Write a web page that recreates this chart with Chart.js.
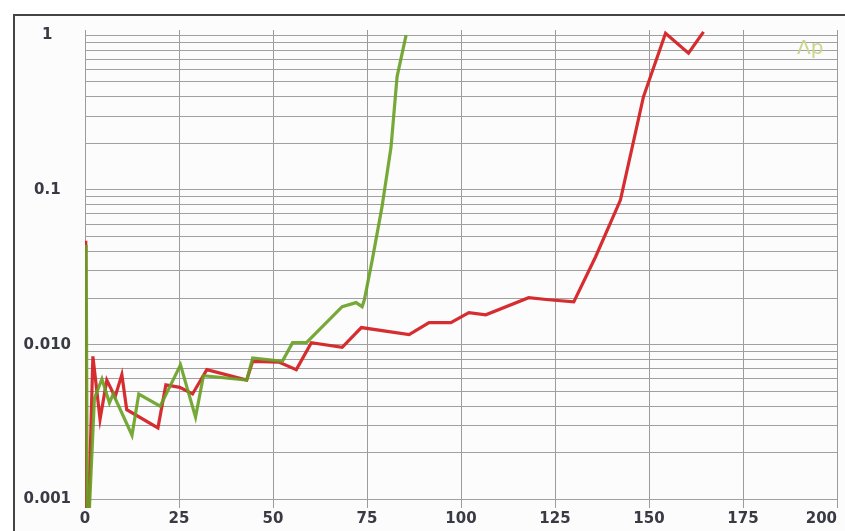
<!DOCTYPE html>
<html>
<head>
<meta charset="utf-8">
<script src="https://cdn.jsdelivr.net/npm/chart.js@4"></script>
<style>
  html, body { margin: 0; padding: 0; background: #ffffff; }
  #wrap { position: relative; width: 845px; height: 531px; }
  canvas { display: block; }
</style>
</head>
<body>
<div id="wrap"><canvas id="c" width="845" height="531"></canvas></div>
<script>
// ---- data ----
const xTickValues = [0, 25, 50, 75, 100, 125, 150, 175, 200];
const xTickLabels = ['0', '25', '50', '75', '100', '125', '150', '175', '200'];
const yLabelValues = [1, 0.1, 0.01, 0.001];
const yLabelTexts = ['1', '0.1', '0.010', '0.001'];
const legendText = 'Λp';

const greenX = [0.3, 0.6, 1.2, 2.5, 4.5, 6.5, 7.5, 12.5, 14.3, 20, 25.4, 29.4, 31.5, 43, 44.6, 52.5, 55.2, 58.9, 68.4, 72.1, 73.7, 74.3, 76.4, 79, 81.4, 83, 85.4];
const greenY = [0.044, 0.0009, 0.0009, 0.0045, 0.0060, 0.0042, 0.0048, 0.0026, 0.0048, 0.0040, 0.0074, 0.0034, 0.0063, 0.0059, 0.0082, 0.0078, 0.0103, 0.0103, 0.0176, 0.0187, 0.0176, 0.0195, 0.0353, 0.078, 0.19, 0.54, 1.0];

const redX = [0, 0.2, 1.0, 2.1, 4.0, 5.8, 8.0, 9.8, 11.1, 19.4, 21.5, 25.2, 28.6, 32.4, 43, 44.6, 51.7, 56.2, 60.2, 68.4, 73.5, 86.2, 91.5, 97.3, 102.1, 106.6, 118, 123.3, 130, 135.8, 142.4, 148.5, 154.4, 160.5, 164.5];
const redY = [0.047, 0.0009, 0.0009, 0.0084, 0.0033, 0.0059, 0.0046, 0.0064, 0.0038, 0.0029, 0.0055, 0.0053, 0.0048, 0.0069, 0.0059, 0.0078, 0.0077, 0.0069, 0.0103, 0.0096, 0.0129, 0.0116, 0.0139, 0.0139, 0.0161, 0.0156, 0.0201, 0.0195, 0.0189, 0.037, 0.086, 0.398, 1.03, 0.766, 1.05];

const toPts = (xs, ys) => xs.map((x, i) => ({ x: x, y: ys[i] }));

const yGridValues = [];
[0.001, 0.01, 0.1].forEach(d => { for (let m = 1; m <= 9; m++) yGridValues.push(+(d * m).toPrecision(3)); });
yGridValues.push(1);

const labelFont = 'bold 15px "DejaVu Sans"';
const textColor = '#3a3a44';

const framePlugin = {
  id: 'frame',
  beforeDraw(chart) {
    const ctx = chart.ctx;
    ctx.save();
    ctx.fillStyle = '#ffffff';
    ctx.fillRect(0, 0, chart.width, chart.height);
    ctx.fillStyle = '#fcfcfc';
    ctx.fillRect(15, 16, chart.width - 15, chart.height - 16);
    ctx.strokeStyle = '#444444';
    ctx.lineWidth = 2;
    ctx.beginPath();
    ctx.moveTo(14, chart.height);
    ctx.lineTo(14, 15);
    ctx.lineTo(chart.width, 15);
    ctx.stroke();
    ctx.restore();
  },
  afterDraw(chart) {
    const ctx = chart.ctx;
    const xs = chart.scales.x;
    ctx.save();
    ctx.font = labelFont;
    ctx.fillStyle = textColor;
    ctx.textBaseline = 'middle';
    ctx.textAlign = 'center';
    xTickValues.forEach((v, i) => {
      const t = xTickLabels[i];
      let px = xs.getPixelForValue(v);
      const w = ctx.measureText(t).width;
      if (px + w / 2 > chart.width - 8) px = chart.width - 8 - w / 2;
      ctx.fillText(t, px, 519);
    });
    // legend text
    ctx.font = '20px "DejaVu Sans"';
    ctx.fillStyle = '#c9d48c';
    ctx.textAlign = 'left';
    ctx.fillText(legendText, 797, 49);
    ctx.restore();
  }
};

new Chart(document.getElementById('c'), {
  type: 'scatter',
  data: {
    datasets: [
      {
        label: 'red',
        data: toPts(redX, redY),
        showLine: true,
        borderColor: 'rgba(212,34,38,0.95)',
        borderWidth: 3.2,
        pointRadius: 0,
        tension: 0,
        order: 2
      },
      {
        label: 'green',
        data: toPts(greenX, greenY),
        showLine: true,
        borderColor: 'rgba(104,160,36,0.9)',
        borderWidth: 3.2,
        pointRadius: 0,
        tension: 0,
        order: 1
      }
    ]
  },
  options: {
    responsive: false,
    animation: false,
    events: [],
    layout: { padding: { left: 0, top: 30, right: 8, bottom: 0 } },
    plugins: { legend: { display: false }, tooltip: { enabled: false }, title: { display: false } },
    scales: {
      x: {
        type: 'linear',
        min: 0,
        max: 200,
        afterBuildTicks(scale) { scale.ticks = xTickValues.map(v => ({ value: v })); },
        afterFit(scale) { scale.height = 23; },
        ticks: { display: false },
        grid: { color: '#9c9c9c', lineWidth: 1, drawTicks: false },
        border: { display: false }
      },
      y: {
        type: 'logarithmic',
        min: 0.00088,
        max: 1.08,
        afterBuildTicks(scale) { scale.ticks = yGridValues.map(v => ({ value: v })); },
        afterFit(scale) { scale.width = 85; },
        ticks: {
          autoSkip: false,
          crossAlign: 'center',
          padding: 14,
          color: textColor,
          font: { family: 'DejaVu Sans', size: 15, weight: 'bold' },
          callback(value) {
            const i = yLabelValues.findIndex(v => Math.abs(v - value) / v < 1e-6);
            return i >= 0 ? yLabelTexts[i] : '';
          }
        },
        grid: { color: '#a0a0a0', lineWidth: 1, drawTicks: false },
        border: { display: false }
      }
    }
  },
  plugins: [framePlugin]
});
</script>
</body>
</html>
